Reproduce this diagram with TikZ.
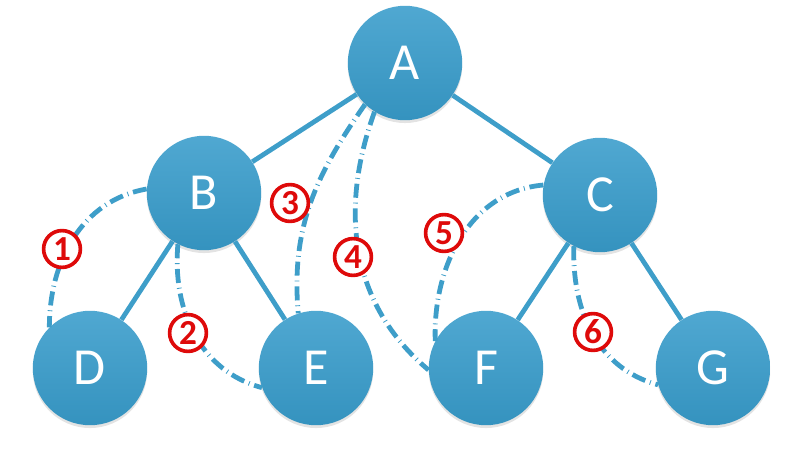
\documentclass[tikz,border=0pt]{standalone}
\usepackage{fontspec}
\setmainfont{Carlito}
\usepackage{tikz}
\usetikzlibrary{shadows}
\definecolor{nodeblue}{RGB}{56,156,203}
\definecolor{edgeblue}{RGB}{62,158,201}
\definecolor{markred}{RGB}{222,10,10}

\begin{document}
\begin{tikzpicture}[x=0.025cm,y=0.025cm,
		vertex/.style={circle, minimum size=2.86cm, inner sep=0pt, top color=nodeblue!88!white, bottom color=nodeblue!94!black, draw=none, text=white, font=\fontsize{37}{40}\selectfont, drop shadow={opacity=0.22, shadow xshift=0pt, shadow yshift=-2pt}},
		tree/.style={edgeblue, line width=3.4pt},
		visit/.style={edgeblue, line width=3.4pt, dash pattern=on 10pt off 3.5pt on 0.6pt off 3.5pt},
		order/.style={circle, draw=markred, line width=2.6pt, fill=white, text=markred, minimum size=0.92cm, inner sep=0pt, font=\fontsize{25}{25}\selectfont\bfseries}]
			\useasboundingbox (0,0) rectangle (794,-452);
			\node[vertex] (A) at (405,-63) {A};
			\node[vertex] (B) at (204,-193) {B};
			\node[vertex] (C) at (600,-195) {C};
			\node[vertex] (D) at (90,-368) {D};
			\node[vertex] (E) at (316,-368) {E};
			\node[vertex] (F) at (486,-368) {F};
			\node[vertex] (G) at (713,-368) {G};
			\begin{scope}
				\draw[tree] (A) -- (B);
				\draw[tree] (A) -- (C);
				\draw[tree] (B) -- (D);
				\draw[tree] (B) -- (E);
				\draw[tree] (C) -- (F);
				\draw[tree] (C) -- (G);
			\end{scope}
			\begin{scope}
				\draw[visit] (B.176) to[out=190,in=90] (D.135);
				\draw[visit] (B.243) to[out=265,in=165] (E.200);
				\draw[visit] (A.226) to[out=235,in=95] (E.108);
				\draw[visit] (A.238) to[out=250,in=140] (F.182);
				\draw[visit] (C.170) to[out=185,in=92] (F.152);
				\draw[visit] (C.243) to[out=268,in=165] (G.197);
			\end{scope}
			\node[order] (o1) at (62,-249) {1};
			\node[order] (o2) at (188,-333) {2};
			\node[order] (o3) at (290,-203) {3};
			\node[order] (o4) at (353,-257) {4};
			\node[order] (o5) at (444,-233) {5};
			\node[order] (o6) at (593,-332) {6};
\end{tikzpicture}
\end{document}
